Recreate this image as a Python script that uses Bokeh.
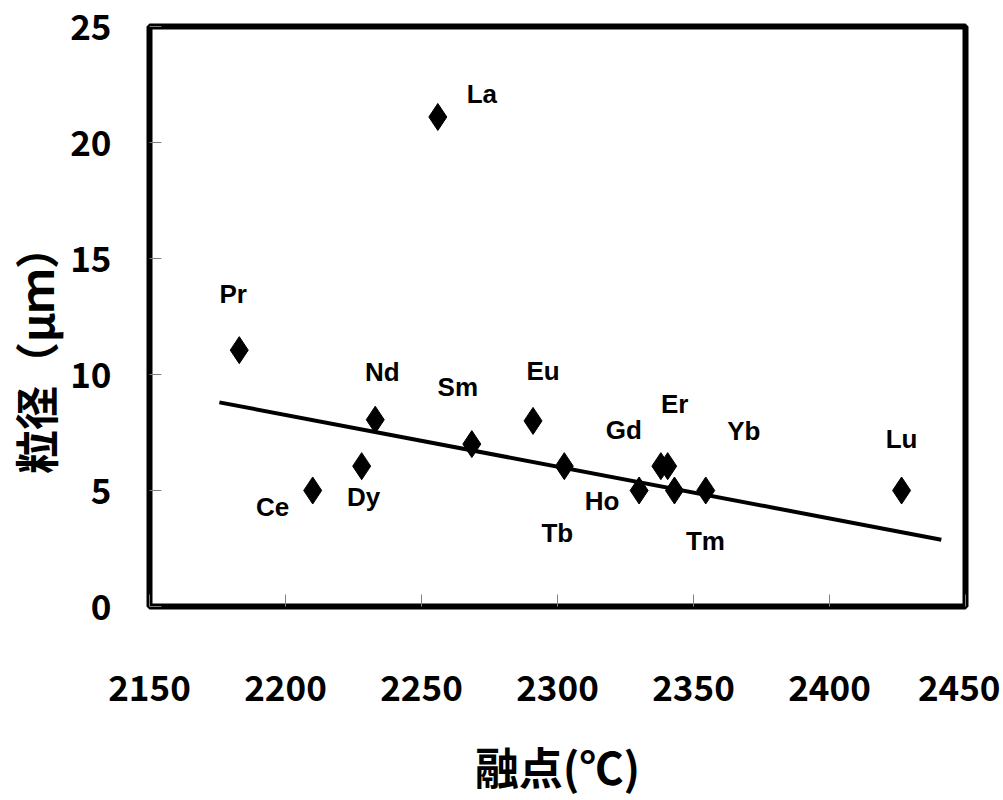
from bokeh.plotting import figure
from bokeh.models import ColumnDataSource, FixedTicker, Range1d
from bokeh.core.properties import value
from bokeh.embed import file_html
from bokeh.resources import INLINE

# ---- data ----
elements = ["Pr", "Ce", "Dy", "Nd", "La", "Sm", "Eu", "Tb", "Ho", "Gd", "Er", "Tm", "Yb", "Lu"]
melting_point = [2183, 2210, 2228, 2233, 2256, 2268.5, 2291, 2302.5, 2330, 2338, 2340.5, 2343, 2354.5, 2426.5]
particle_size = [11.05, 5.0, 6.05, 8.05, 21.1, 7.0, 8.0, 6.05, 5.0, 6.05, 6.05, 5.0, 5.0, 5.0]
trend_x = [2175.7, 2441.1]
trend_y = [8.80, 2.88]
x_ticks = [2150, 2200, 2250, 2300, 2350, 2400, 2450]
y_ticks = [0, 5, 10, 15, 20, 25]

# label placement (screen pixel offsets, y downwards)
label_dx = [-6, -40, 2, 7, 44, -14, 10, -7, -37, -37, 7, 31, 38, 0]
label_dy = [-56, 16, 31, -48, -23, -57, -50, 67, 10, -36, -62, 50, -60, -52]

src = ColumnDataSource(dict(x=melting_point, y=particle_size, name=elements,
                            dx=label_dx, dy=label_dy))

p = figure(width=1000, height=800, output_backend="svg", toolbar_location=None,
           x_range=Range1d(2150, 2450), y_range=Range1d(0, 25),
           min_border_left=147, min_border_right=35, min_border_top=26, min_border_bottom=192)

p.background_fill_color = "white"
p.border_fill_color = "white"
p.outline_line_color = "black"
p.outline_line_width = 6
p.xgrid.visible = False
p.ygrid.visible = False

tick_font = "Noto Sans CJK JP"
for ax in (p.xaxis[0], p.yaxis[0]):
    ax.axis_line_color = None
    ax.major_tick_in = 12
    ax.major_tick_out = 0
    ax.major_tick_line_color = "#808080"
    ax.major_tick_line_width = 1
    ax.minor_tick_line_color = None
    ax.major_label_text_font = tick_font
    ax.major_label_text_font_style = "bold"
    ax.major_label_text_font_size = "35px"
    ax.major_label_text_color = "black"
    ax.axis_label_text_font = tick_font
    ax.axis_label_text_font_style = "bold"
    ax.axis_label_text_font_size = "44px"
    ax.axis_label_text_color = "black"

p.xaxis.ticker = FixedTicker(ticks=x_ticks)
p.yaxis.ticker = FixedTicker(ticks=y_ticks)
p.xaxis.major_label_standoff = 68
p.yaxis.major_label_standoff = 38
p.xaxis.axis_label = "融点(℃)"
p.yaxis.axis_label = "粒径（μｍ）　　"
p.xaxis.axis_label_standoff = 30
p.yaxis.axis_label_standoff = 0

p.line(trend_x, trend_y, line_color="black", line_width=4)
p.scatter("x", "y", source=src, marker="diamond", size=27,
          fill_color="black", line_color="black")
p.text("x", "y", text="name", source=src, x_offset="dx", y_offset="dy",
       text_font=value("Liberation Sans"), text_font_style="bold",
       text_font_size="26px", text_color="black",
       text_align="center", text_baseline="middle")

open("out.html", "w").write(file_html(p, INLINE))
